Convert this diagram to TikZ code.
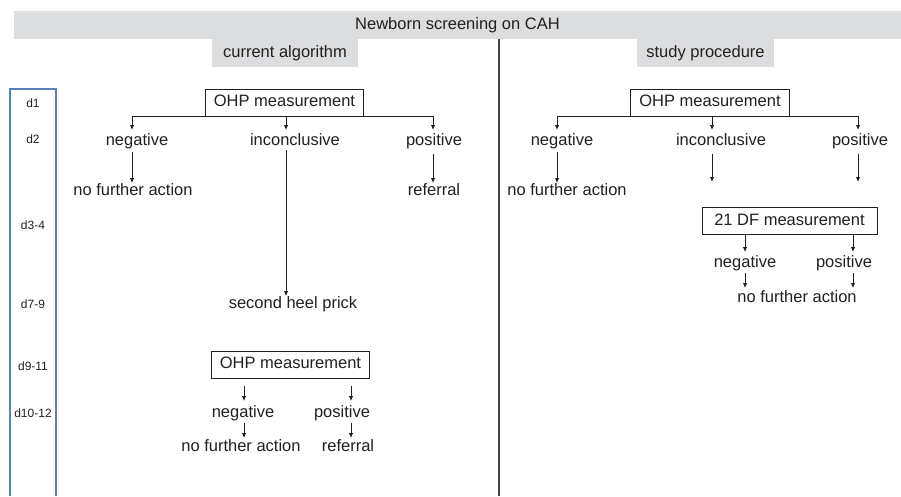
\documentclass[tikz,border=0pt]{standalone}
\usepackage{fontspec}
\setmainfont{Liberation Sans}
\usetikzlibrary{arrows.meta}
\definecolor{bargray}{HTML}{DCDDDE}
\definecolor{dayblue}{HTML}{5B80B6}
\definecolor{inkgray}{HTML}{231F20}
\tikzset{
  lbl/.style={font=\fontsize{16.5}{18}\selectfont, text=inkgray, inner sep=0pt, text height=12pt, text depth=3.5pt},
  day/.style={font=\fontsize{12}{14}\selectfont, text=inkgray, inner sep=0pt},
  bar/.style={lbl, fill=bargray, minimum height=28pt},
  mbox/.style={lbl, draw=inkgray, line width=1pt, inner xsep=8.5pt, inner ysep=5.75pt},
  arr/.style={-{Latex[length=5pt,width=4.5pt]}, line width=1pt, inkgray}
}
\begin{document}
\begin{tikzpicture}[x=1pt,y=-1pt]
  \useasboundingbox (0,0) rectangle (901,496);

  % Headers
  \node[bar, minimum width=887pt] (title) at (457.5,25) {Newborn screening on CAH};
  \node[bar, minimum width=146pt] (curr) at (285,53) {current algorithm};
  \node[bar, minimum width=137pt] (study) at (705.5,53) {study procedure};

  % Divider and time axis
  \draw[line width=1.3pt, inkgray!85] (499,39) -- (499,496);
  \draw[line width=1.5pt, dayblue] (10,496) -- (10,89) -- (56,89) -- (56,496);

  % Days
  \node[day] (d1) at (33,103) {d1};
  \node[day] (d2) at (33,139) {d2};
  \node[day] (d3) at (33,225) {d3-4};
  \node[day] (d7) at (33,304) {d7-9};
  \node[day] (d9) at (33,366) {d9-11};
  \node[day] (d10) at (33,413) {d10-12};

  % Current algorithm
  \node[mbox] (ohpA) at (284.5,102.5) {OHP measurement};
  \node[lbl] (negA) at (137,141) {negative};
  \node[lbl] (incA) at (295,141) {inconclusive};
  \node[lbl] (posA) at (434,141) {positive};
  \node[lbl] (nfaA) at (133,191) {no further action};
  \node[lbl] (refA) at (434,191) {referral};
  \node[lbl] (heelA) at (293,304) {second heel prick};
  \node[mbox] (ohpB) at (290.5,364.5) {OHP measurement};
  \node[lbl] (negB) at (243,413) {negative};
  \node[lbl] (posB) at (342,413) {positive};
  \node[lbl] (nfaB) at (241,447) {no further action};
  \node[lbl] (refB) at (348,447) {referral};

  \coordinate (bA1) at (132,116);
  \coordinate (bA2) at (286,116);
  \coordinate (bA3) at (433,116);
  \draw[line width=1pt, inkgray] (bA1) -- (bA3);
  \draw[arr, shorten >=3pt] (bA1) -- (bA1 |- negA.north);
  \draw[arr, shorten >=3pt] (bA2) -- (bA2 |- incA.north);
  \draw[arr, shorten >=3pt] (bA3) -- (bA3 |- posA.north);
  \draw[arr, shorten <=3pt] (bA1 |- negA.south) -- (bA1 |- nfaA.north);
  \draw[arr, shorten <=5pt] (bA3 |- posA.south) -- (bA3 |- refA.north);
  \draw[arr, shorten <=1pt] (bA2 |- incA.south) -- (bA2 |- heelA.north);

  \coordinate (bB1) at (244,379);
  \coordinate (bB2) at (351,379);
  \draw[arr, shorten <=7pt, shorten >=4pt] (bB1) -- (bB1 |- negB.north);
  \draw[arr, shorten <=7pt, shorten >=4pt] (bB2) -- (bB2 |- posB.north);
  \draw[arr, shorten <=2pt, shorten >=1pt] (bB1 |- negB.south) -- (bB1 |- nfaB.north);
  \draw[arr, shorten <=2pt, shorten >=1pt] (bB2 |- posB.south) -- (bB2 |- refB.north);

  % Study procedure
  \node[mbox] (ohpC) at (710,102.5) {OHP measurement};
  \node[lbl] (negC) at (562,141) {negative};
  \node[lbl] (incC) at (721,141) {inconclusive};
  \node[lbl] (posC) at (860,141) {positive};
  \node[lbl] (nfaC) at (567,191) {no further action};
  \node[mbox, minimum width=175pt] (dfC) at (789.5,221) {21 DF measurement};
  \node[lbl] (negD) at (745,263) {negative};
  \node[lbl] (posD) at (844,263) {positive};
  \node[lbl] (nfaD) at (797,298) {no further action};

  \coordinate (bC1) at (557,116);
  \coordinate (bC2) at (712,116);
  \coordinate (bC3) at (858,116);
  \draw[line width=1pt, inkgray] (bC1) -- (bC3);
  \draw[arr, shorten >=3pt] (bC1) -- (bC1 |- negC.north);
  \draw[arr, shorten >=3pt] (bC2) -- (bC2 |- incC.north);
  \draw[arr, shorten >=3pt] (bC3) -- (bC3 |- posC.north);
  \draw[arr, shorten <=3pt] (bC1 |- negC.south) -- (bC1 |- nfaC.north);
  \draw[arr, shorten <=5pt, shorten >=25pt] (bC2 |- incC.south) -- (bC2 |- dfC.north);
  \draw[arr, shorten <=5pt, shorten >=25pt] (bC3 |- posC.south) -- (bC3 |- dfC.north);

  \coordinate (bD1) at (745,235);
  \coordinate (bD2) at (853,235);
  \draw[arr, shorten >=3pt] (bD1) -- (bD1 |- negD.north);
  \draw[arr, shorten >=3pt] (bD2) -- (bD2 |- posD.north);
  \draw[arr, shorten <=2pt, shorten >=2pt] (bD1 |- negD.south) -- (bD1 |- nfaD.north);
  \draw[arr, shorten <=2pt, shorten >=2pt] (bD2 |- posD.south) -- (bD2 |- nfaD.north);
\end{tikzpicture}
\end{document}
